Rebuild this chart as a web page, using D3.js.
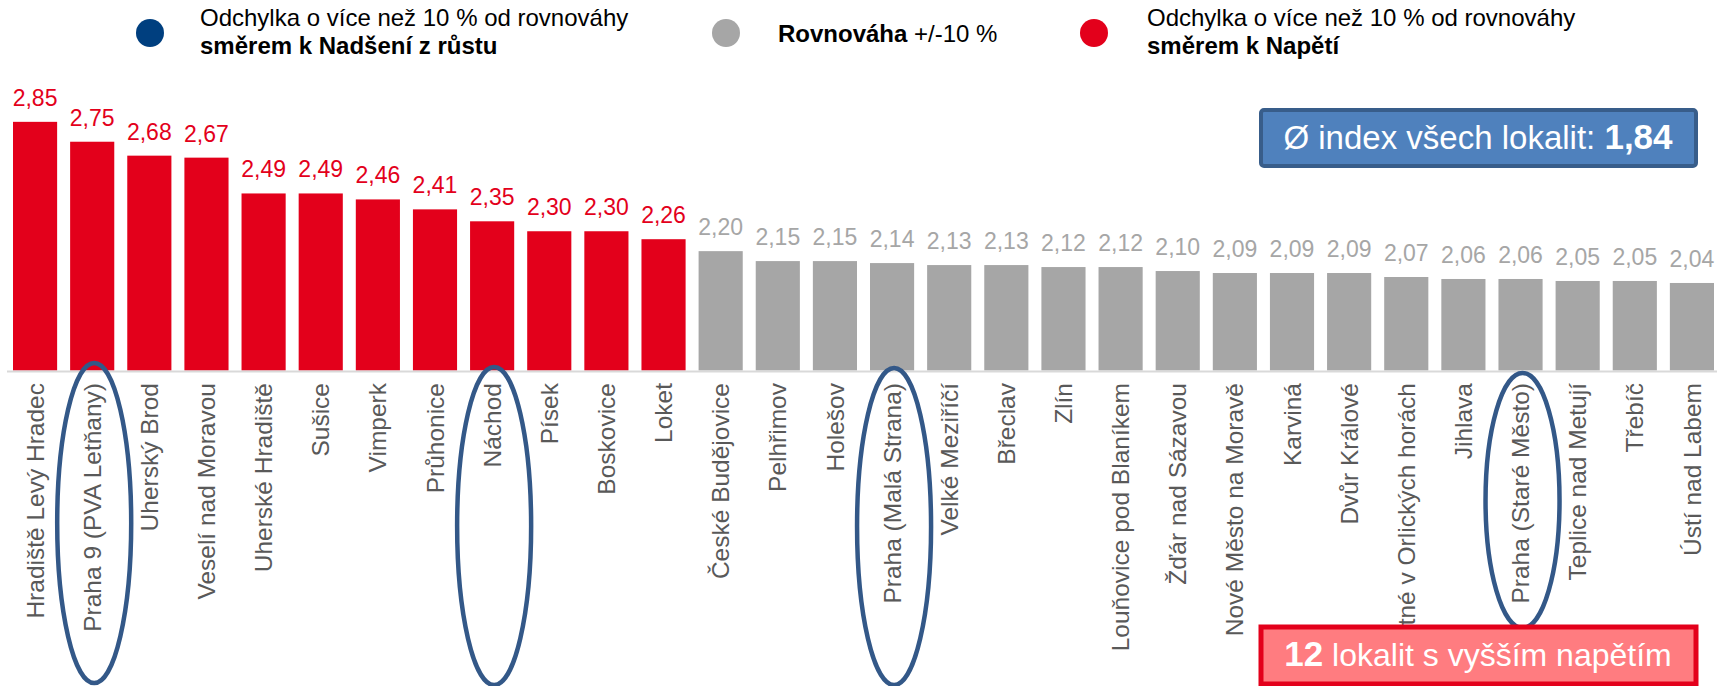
<!DOCTYPE html>
<html>
<head>
<meta charset="utf-8">
<script src="https://cdn.jsdelivr.net/npm/d3@7"></script>
<style>
  html, body { margin: 0; padding: 0; background: #fff; }
  svg { display: block; font-family: "Liberation Sans", Arial, sans-serif; }
</style>
</head>
<body>
<svg id="chart" width="1717" height="686"></svg>
<script>
// locations, sorted by index
var categories = [
  "Hradiště Levý Hradec", "Praha 9 (PVA Letňany)", "Uherský Brod", "Veselí nad Moravou",
  "Uherské Hradiště", "Sušice", "Vimperk", "Průhonice", "Náchod", "Písek", "Boskovice", "Loket",
  "České Budějovice", "Pelhřimov", "Holešov", "Praha (Malá Strana)", "Velké Meziříčí", "Břeclav",
  "Zlín", "Louňovice pod Blaníkem", "Žďár nad Sázavou", "Nové Město na Moravě", "Karviná",
  "Dvůr Králové", "Deštné v Orlických horách", "Jihlava", "Praha (Staré Město)",
  "Teplice nad Metují", "Třebíč", "Ústí nad Labem"
];
var values = [
  2.85, 2.75, 2.68, 2.67, 2.49, 2.49, 2.46, 2.41, 2.35, 2.30, 2.30, 2.26,
  2.20, 2.15, 2.15, 2.14, 2.13, 2.13, 2.12, 2.12, 2.10, 2.09, 2.09, 2.09,
  2.07, 2.06, 2.06, 2.05, 2.05, 2.04
];
// group per bar: "tension" = more than 10 % above balance, "balance" = within +/-10 %
var groups = [
  "tension", "tension", "tension", "tension", "tension", "tension", "tension", "tension",
  "tension", "tension", "tension", "tension",
  "balance", "balance", "balance", "balance", "balance", "balance", "balance", "balance",
  "balance", "balance", "balance", "balance", "balance", "balance", "balance", "balance",
  "balance", "balance"
];
var highlighted = ["Praha 9 (PVA Letňany)", "Náchod", "Praha (Malá Strana)", "Praha (Staré Město)"];
var averageIndex = 1.84;
var tensionCount = 12;

var colors = { growth: "#003f7f", balance: "#a6a6a6", tension: "#e3001b" };
var fmt = function(v) { return d3.format(".2f")(v).replace(".", ","); };

var svg = d3.select("#chart");

// scales
var x = d3.scaleBand()
    .domain(categories)
    .range([6.5, 1720.5])
    .paddingInner(0.2275)
    .paddingOuter(0.11375);

var y = d3.scaleLinear()
    .domain([1.6, 3.0])
    .range([370.5, 92]);

var data = categories.map(function(c, i) {
    return { name: c, value: values[i], group: groups[i] };
});

// bars
svg.append("g")
    .selectAll("rect")
    .data(data)
    .join("rect")
    .attr("x", function(d) { return x(d.name); })
    .attr("y", function(d) { return y(d.value); })
    .attr("width", x.bandwidth())
    .attr("height", function(d) { return y.range()[0] - y(d.value); })
    .attr("fill", function(d) { return colors[d.group]; });

// value labels
svg.append("g")
    .selectAll("text")
    .data(data)
    .join("text")
    .attr("x", function(d) { return x(d.name) + x.bandwidth() / 2; })
    .attr("y", function(d) { return y(d.value) - 16; })
    .attr("text-anchor", "middle")
    .style("font-size", "23px")
    .style("fill", function(d) { return colors[d.group]; })
    .text(function(d) { return fmt(d.value); });

// x axis with rotated labels
var xAxis = svg.append("g")
    .attr("transform", "translate(0,371)")
    .call(d3.axisBottom(x).tickSize(0).tickSizeOuter(0));

xAxis.select(".domain")
    .attr("stroke", "#d9d9d9")
    .attr("stroke-width", 2);

xAxis.selectAll(".tick text")
    .attr("transform", "rotate(-90)")
    .attr("x", -12)
    .attr("y", 0)
    .attr("dy", "0.35em")
    .attr("text-anchor", "end")
    .style("font-size", "24.5px")
    .style("font-family", "'Liberation Sans', Arial, sans-serif")
    .style("fill", "#595959");

// ellipses round highlighted locations
var ellipseSpan = {
    "Praha 9 (PVA Letňany)": [363, 683],
    "Náchod": [367, 685],
    "Praha (Malá Strana)": [368, 685],
    "Praha (Staré Město)": [373, 628]
};
svg.append("g")
    .selectAll("ellipse")
    .data(highlighted)
    .join("ellipse")
    .attr("cx", function(d) { return x(d) + x.bandwidth() / 2 + 2; })
    .attr("cy", function(d) { return (ellipseSpan[d][0] + ellipseSpan[d][1]) / 2; })
    .attr("rx", 37)
    .attr("ry", function(d) { return (ellipseSpan[d][1] - ellipseSpan[d][0]) / 2; })
    .attr("fill", "none")
    .attr("stroke", "#335888")
    .attr("stroke-width", 4.5);

// legend
var legend = [
    { color: colors.growth, cx: 150, tx: 200, lines: [["Odchylka o více než 10 % od rovnováhy", ""], ["", "směrem k Nadšení z růstu"]] },
    { color: colors.balance, cx: 726, tx: 778, lines: [["+/-10 %", "Rovnováha"]] },
    { color: colors.tension, cx: 1094, tx: 1147, lines: [["Odchylka o více než 10 % od rovnováhy", ""], ["", "směrem k Napětí"]] }
];
var lg = svg.append("g").style("font-size", "24px").style("fill", "#000");
legend.forEach(function(l) {
    lg.append("circle").attr("cx", l.cx).attr("cy", 33).attr("r", 14).attr("fill", l.color);
    if (l.lines.length === 2) {
        lg.append("text").attr("x", l.tx).attr("y", 26).text(l.lines[0][0]);
        lg.append("text").attr("x", l.tx).attr("y", 54).style("font-weight", "bold").text(l.lines[1][1]);
    } else {
        var t = lg.append("text").attr("x", l.tx).attr("y", 42);
        t.append("tspan").style("font-weight", "bold").text(l.lines[0][1]);
        t.append("tspan").text(" " + l.lines[0][0]);
    }
});

// average index box
svg.append("rect")
    .attr("x", 1261).attr("y", 110).attr("width", 435).attr("height", 56)
    .attr("rx", 3)
    .attr("fill", "#4f81bd")
    .attr("stroke", "#385d8a")
    .attr("stroke-width", 4);
var avg = svg.append("text")
    .attr("x", 1478).attr("y", 149)
    .attr("text-anchor", "middle")
    .style("font-size", "33px")
    .style("fill", "#fff");
avg.append("tspan").text("Ø index všech lokalit: ");
avg.append("tspan").style("font-weight", "bold").style("font-size", "35px").text(fmt(averageIndex));

// tension count box
svg.append("rect")
    .attr("x", 1261).attr("y", 627).attr("width", 435).attr("height", 57)
    .attr("fill", "#ff7c80")
    .attr("stroke", "#e3001b")
    .attr("stroke-width", 5);
var cnt = svg.append("text")
    .attr("x", 1478).attr("y", 666)
    .attr("text-anchor", "middle")
    .style("font-size", "32px")
    .style("fill", "#fff");
cnt.append("tspan").style("font-weight", "bold").style("font-size", "35px").text(tensionCount);
cnt.append("tspan").text(" lokalit s vyšším napětím");
</script>
</body>
</html>
